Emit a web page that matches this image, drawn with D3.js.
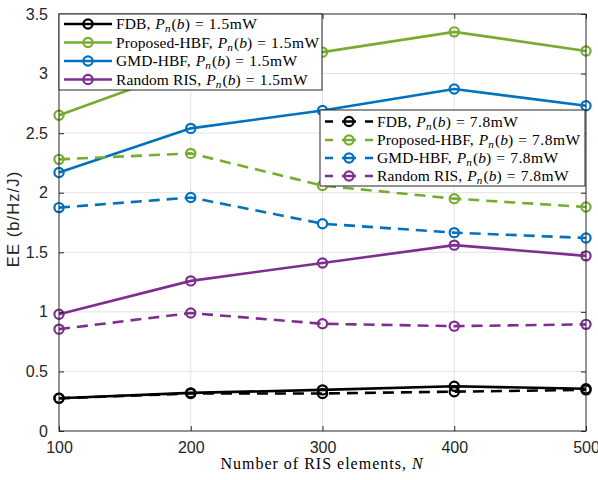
<!DOCTYPE html>
<html>
<head>
<meta charset="utf-8">
<script src="https://cdn.jsdelivr.net/npm/d3@7"></script>
<style>
  html, body { margin: 0; padding: 0; background: #fff; }
  svg { display: block; }
  .tick-label { font-family: "Liberation Sans", Arial, sans-serif; font-size: 16px; fill: #262626; }
  .serif { font-family: "Liberation Serif", "Times New Roman", serif; fill: #000; }
</style>
</head>
<body>
<div id="chart"></div>
<script>
// ---- data ----
const nElements = [100, 200, 300, 400, 500];
const yTicks = [0, 0.5, 1, 1.5, 2, 2.5, 3, 3.5];

const fdb15  = [0.275, 0.32, 0.345, 0.375, 0.355];
const prop15 = [2.65, 3.05, 3.18, 3.35, 3.19];
const gmd15  = [2.17, 2.54, 2.69, 2.87, 2.73];
const rand15 = [0.98, 1.26, 1.41, 1.56, 1.47];

const fdb78  = [0.275, 0.315, 0.315, 0.33, 0.345];
const prop78 = [2.28, 2.33, 2.06, 1.95, 1.88];
const gmd78  = [1.875, 1.96, 1.74, 1.665, 1.62];
const rand78 = [0.855, 0.99, 0.90, 0.88, 0.895];

const seriesNames = ["FDB", "Proposed-HBF", "GMD-HBF", "Random RIS"];
const colors = ["#000000", "#77AC30", "#0072BD", "#7E2F8E"];

// ---- layout ----
const W = 598, H = 480;
const plot = { left: 59, right: 586, top: 14, bottom: 431 };
const DASH = "11,7";

const x = d3.scaleLinear().domain([100, 500]).range([plot.left, plot.right]);
const y = d3.scaleLinear().domain([0, 3.5]).range([plot.bottom, plot.top]);

const svg = d3.select("#chart").append("svg").attr("width", W).attr("height", H);

// grid
svg.append("g").selectAll("line").data(nElements.slice(1, -1)).join("line")
  .attr("x1", d => x(d)).attr("x2", d => x(d))
  .attr("y1", plot.top).attr("y2", plot.bottom)
  .attr("stroke", "#e3e3e3").attr("stroke-width", 1);
svg.append("g").selectAll("line").data(yTicks.slice(1, -1)).join("line")
  .attr("x1", plot.left).attr("x2", plot.right)
  .attr("y1", d => y(d)).attr("y2", d => y(d))
  .attr("stroke", "#e3e3e3").attr("stroke-width", 1);

// series
const series = [
  { vals: fdb15, c: 0, dash: null }, { vals: prop15, c: 1, dash: null },
  { vals: gmd15, c: 2, dash: null }, { vals: rand15, c: 3, dash: null },
  { vals: fdb78, c: 0, dash: DASH }, { vals: prop78, c: 1, dash: DASH },
  { vals: gmd78, c: 2, dash: DASH }, { vals: rand78, c: 3, dash: DASH }
];
const line = d3.line().x((d, i) => x(nElements[i])).y(d => y(d));

const dataG = svg.append("g");
series.forEach(s => {
  dataG.append("path").datum(s.vals)
    .attr("d", line).attr("fill", "none")
    .attr("stroke", colors[s.c]).attr("stroke-width", 2.6)
    .attr("stroke-dasharray", s.dash);
  dataG.append("g").selectAll("circle").data(s.vals).join("circle")
    .attr("cx", (d, i) => x(nElements[i])).attr("cy", d => y(d))
    .attr("r", 4.6).attr("fill", "none")
    .attr("stroke", colors[s.c]).attr("stroke-width", 2.2);
});

// axes box + inner ticks
const axG = svg.append("g");
axG.append("rect")
  .attr("x", plot.left).attr("y", plot.top)
  .attr("width", plot.right - plot.left).attr("height", plot.bottom - plot.top)
  .attr("fill", "none").attr("stroke", "#262626").attr("stroke-width", 1);

axG.append("g").attr("transform", `translate(0,${plot.bottom})`)
  .call(d3.axisBottom(x).tickValues(nElements).tickSizeInner(-5).tickSizeOuter(0).tickPadding(11))
  .call(g => g.select(".domain").remove());
axG.append("g").attr("transform", `translate(0,${plot.top})`)
  .call(d3.axisTop(x).tickValues(nElements).tickSizeInner(-5).tickSizeOuter(0).tickFormat(""))
  .call(g => g.select(".domain").remove());
axG.append("g").attr("transform", `translate(${plot.left},0)`)
  .call(d3.axisLeft(y).tickValues(yTicks).tickSizeInner(-5).tickSizeOuter(0).tickPadding(11).tickFormat(d3.format("~g")))
  .call(g => g.select(".domain").remove());
axG.append("g").attr("transform", `translate(${plot.right},0)`)
  .call(d3.axisRight(y).tickValues(yTicks).tickSizeInner(-5).tickSizeOuter(0).tickFormat(""))
  .call(g => g.select(".domain").remove());

axG.selectAll(".tick line").attr("stroke", "#262626");
axG.selectAll(".tick text").attr("class", "tick-label").attr("fill", "#262626")
  .attr("font-size", null).attr("font-family", null);

// axis titles
svg.append("text").attr("class", "serif")
  .attr("x", 322).attr("y", 469)
  .attr("text-anchor", "middle").attr("font-size", 16)
  .attr("letter-spacing", 1)
  .call(t => {
    t.append("tspan").text("Number of RIS elements, ");
    t.append("tspan").attr("font-style", "italic").text("N");
  });

svg.append("text")
  .attr("transform", `translate(19,219) rotate(-90)`)
  .attr("text-anchor", "middle")
  .attr("font-family", "'Liberation Sans', Arial, sans-serif")
  .attr("font-size", 16.5).attr("letter-spacing", 1.1).attr("fill", "#262626")
  .text("EE (b/Hz/J)");

// legends
function legendLabel(sel, name, power) {
  sel.append("tspan").text(name + ",");
  sel.append("tspan").attr("dx", 5).attr("font-style", "italic").text("P");
  sel.append("tspan").attr("font-style", "italic").attr("font-size", "0.72em").attr("dy", 3).text("n");
  sel.append("tspan").attr("dy", -3).attr("dx", 1).text("(");
  sel.append("tspan").attr("font-style", "italic").text("b");
  sel.append("tspan").text(")");
  sel.append("tspan").attr("dx", 5).text("=");
  sel.append("tspan").attr("dx", 5).attr("letter-spacing", 0.5).text(power + "mW");
}

function drawLegend(box, rows, power, dashed) {
  const g = svg.append("g");
  g.append("rect")
    .attr("x", box.x).attr("y", box.y).attr("width", box.w).attr("height", box.h)
    .attr("fill", "#fff").attr("stroke", "#262626").attr("stroke-width", 1);
  seriesNames.forEach((name, i) => {
    const cy = rows[i];
    g.append("line")
      .attr("x1", box.x + 5).attr("x2", box.x + 53)
      .attr("y1", cy).attr("y2", cy)
      .attr("stroke", colors[i]).attr("stroke-width", 2.6)
      .attr("stroke-dasharray", dashed ? "8,9,14,9,8" : null);
    g.append("circle")
      .attr("cx", box.x + 29).attr("cy", cy).attr("r", 4.6)
      .attr("fill", "none").attr("stroke", colors[i]).attr("stroke-width", 2.2);
    g.append("text").attr("class", "serif")
      .attr("x", box.x + 57).attr("y", cy + 5)
      .attr("font-size", 15.5).attr("letter-spacing", 0.08)
      .call(t => legendLabel(t, name, power));
  });
}

drawLegend({ x: 59, y: 14, w: 263, h: 76 }, [24, 42.5, 61, 79.5], "1.5", false);
drawLegend({ x: 320, y: 110, w: 265, h: 76 }, [121.5, 140, 158, 176], "7.8", true);
</script>
</body>
</html>
